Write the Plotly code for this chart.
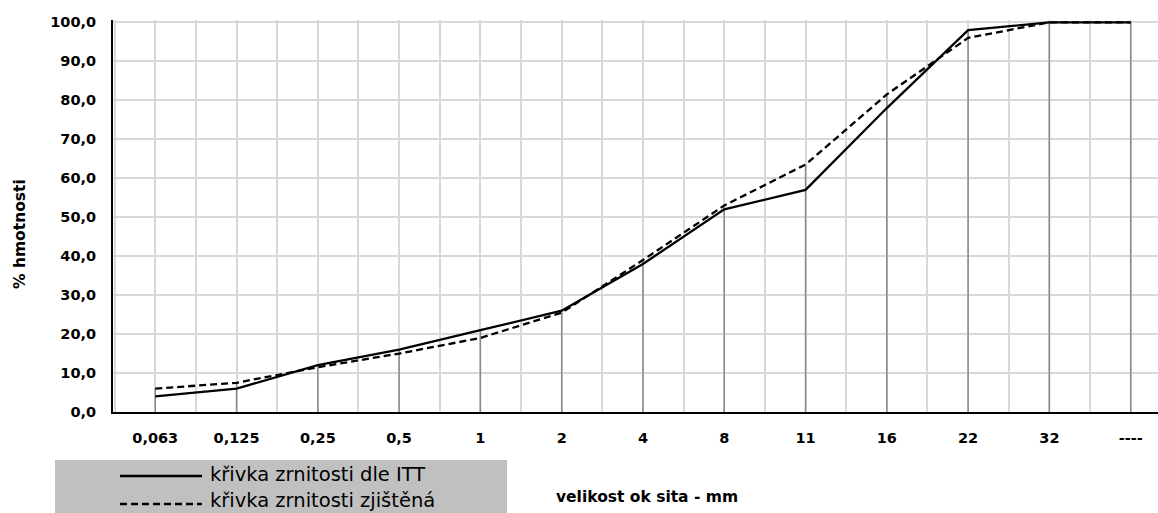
import plotly.graph_objects as go

# Sieve sizes (category labels) and passing percentages
cats = ["0,063", "0,125", "0,25", "0,5", "1", "2", "4", "8", "11", "16", "22", "32", "----"]
itt = [4.0, 6.0, 12.0, 16.0, 21.0, 26.0, 38.0, 52.0, 57.0, 78.0, 98.0, 100.0, 100.0]
zjistena = [6.0, 7.5, 11.5, 15.0, 19.0, 25.5, 39.0, 53.0, 63.5, 81.5, 96.0, 100.0, 100.0]
names = ["křivka zrnitosti dle ITT", "křivka zrnitosti zjištěná"]
y_ticks = list(range(0, 101, 10))

W, H = 1158, 513
L, R, T, B = 113, 0, 20, 101
X_RANGE = [-0.52, 12.336]
Y_RANGE = [0, 100.6]


def paper_x(px):
    return (px - L) / (W - L - R)


def paper_y(py):
    return (H - B - py) / (H - T - B)


idx = list(range(len(cats)))

# vertical drop lines from the axis up to the higher of the two curves
drop_x, drop_y = [], []
for i, a, b in zip(idx, itt, zjistena):
    drop_x += [i, i, None]
    drop_y += [0, max(a, b), None]

DASH = "7px,4px"

fig = go.Figure()
fig.add_trace(go.Scatter(x=drop_x, y=drop_y, mode="lines",
                         line=dict(color="#8a8a8a", width=1.5),
                         hoverinfo="skip", showlegend=False))
fig.add_trace(go.Scatter(x=idx, y=itt, mode="lines", name=names[0],
                         line=dict(color="black", width=2.3), showlegend=False))
fig.add_trace(go.Scatter(x=idx, y=zjistena, mode="lines", name=names[1],
                         line=dict(color="black", width=2.3, dash=DASH),
                         showlegend=False))

tick_font = dict(family="DejaVu Sans", size=14.5, color="black", weight="bold")
grid = "#d8d8d8"

fig.update_layout(
    width=W, height=H,
    margin=dict(l=L, r=R, t=T, b=B, pad=0),
    paper_bgcolor="white", plot_bgcolor="white",
    xaxis=dict(range=X_RANGE, tickvals=idx, ticktext=cats,
               showgrid=True, gridcolor=grid, gridwidth=1.5,
               minor=dict(tick0=-0.5, dtick=0.5, showgrid=True,
                          gridcolor=grid, gridwidth=1.5),
               showline=True, linecolor="black", linewidth=2,
               zeroline=False, ticks="", tickfont=tick_font,
               ticklabelstandoff=12, fixedrange=True),
    yaxis=dict(range=Y_RANGE, tickvals=y_ticks,
               ticktext=[f"{v:.1f}".replace(".", ",") for v in y_ticks],
               showgrid=True, gridcolor=grid, gridwidth=1.5,
               showline=True, linecolor="black", linewidth=2,
               zeroline=False, ticks="", tickfont=tick_font,
               ticklabelstandoff=12, fixedrange=True),
    showlegend=False,
)

# axis titles
fig.add_annotation(text="% hmotnosti", textangle=-90, showarrow=False,
                   xref="paper", yref="paper", x=paper_x(20), y=paper_y(234),
                   xanchor="center", yanchor="middle",
                   font=dict(family="DejaVu Sans", size=15.5, color="black", weight="bold"))
fig.add_annotation(text="velikost ok sita - mm", showarrow=False,
                   xref="paper", yref="paper", x=paper_x(647), y=paper_y(497),
                   xanchor="center", yanchor="middle",
                   font=dict(family="DejaVu Sans", size=15.5, color="black", weight="bold"))

# legend box below the plot
fig.add_shape(type="rect", xref="paper", yref="paper",
              x0=paper_x(55), x1=paper_x(507), y0=paper_y(460), y1=paper_y(530),
              fillcolor="#c0c0c0", line=dict(width=0), layer="above")
rows = [(476, 474, dict(color="black", width=2.3)),
        (504, 500, dict(color="black", width=2.3, dash=DASH))]
for name, (py_line, py_text, ln) in zip(names, rows):
    fig.add_shape(type="line", xref="paper", yref="paper",
                  x0=paper_x(120), x1=paper_x(202), y0=paper_y(py_line), y1=paper_y(py_line),
                  line=ln, layer="above")
    fig.add_annotation(text=name, showarrow=False, xref="paper", yref="paper",
                       x=paper_x(208), y=paper_y(py_text), xanchor="left", yanchor="middle",
                       font=dict(family="DejaVu Sans", size=19.5, color="black"))

fig.write_html("out.html")
